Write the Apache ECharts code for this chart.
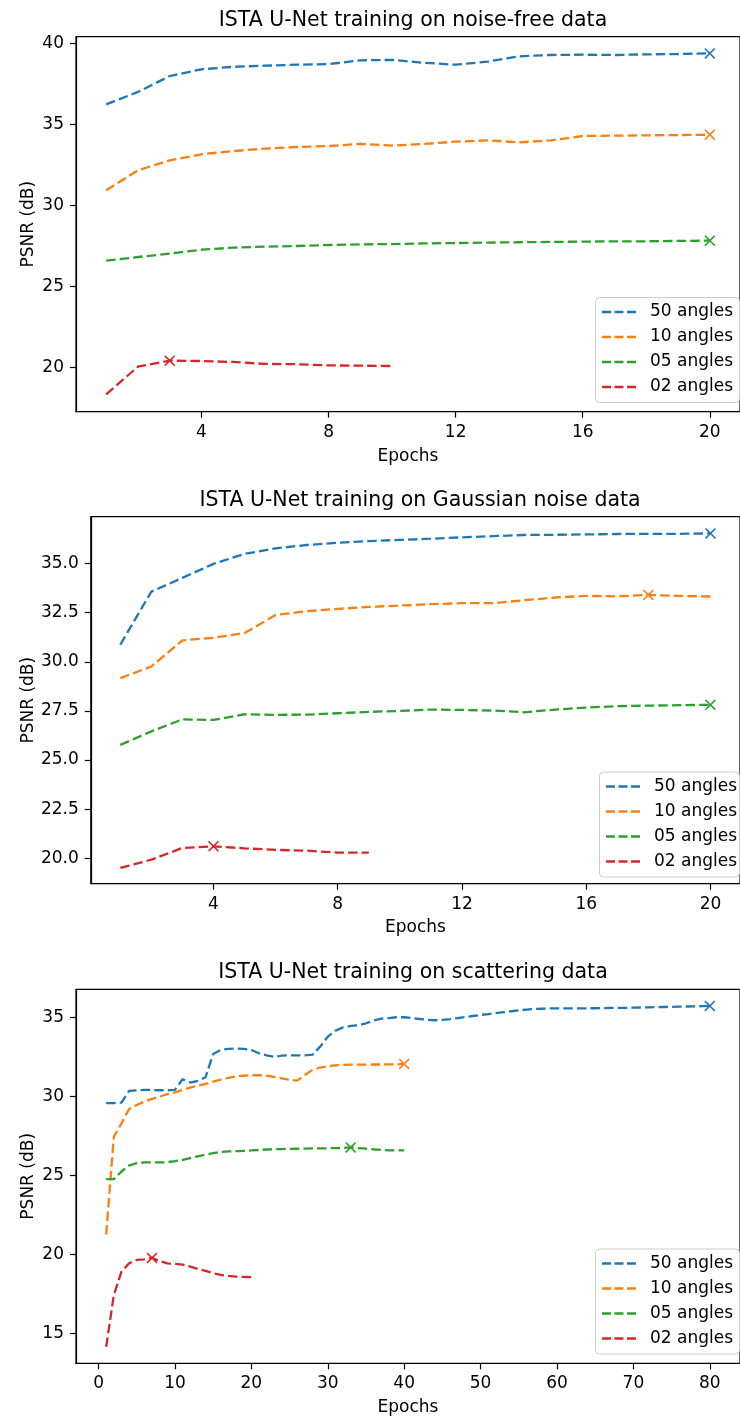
<!DOCTYPE html>
<html><head><meta charset="utf-8">
<script src="https://cdn.jsdelivr.net/npm/echarts@6/dist/echarts.min.js"></script>
<style>html,body{margin:0;padding:0;background:#fff}#c{width:740px;height:1419px}</style>
</head><body><div id="c"></div>
<script>
const seriesNames = ['50 angles', '10 angles', '05 angles', '02 angles'];
const colors = ['#1f77b4', '#ff7f0e', '#2ca02c', '#d62728'];
const titles = ['ISTA U-Net training on noise-free data', 'ISTA U-Net training on Gaussian noise data', 'ISTA U-Net training on scattering data'];
const xTicks1 = [4, 8, 12, 16, 20];
const xTicks2 = [4, 8, 12, 16, 20];
const xTicks3 = [0, 10, 20, 30, 40, 50, 60, 70, 80];
const yTicks1 = [20, 25, 30, 35, 40];
const yTicks2 = [20, 22.5, 25, 27.5, 30, 32.5, 35];
const yTicks3 = [15, 20, 25, 30, 35];

// noise-free data (epochs 1..n)
const nf50 = [36.23, 37.0, 37.98, 38.4, 38.55, 38.62, 38.68, 38.72, 38.95, 38.98, 38.8, 38.68, 38.87, 39.2, 39.28, 39.3, 39.28, 39.32, 39.34, 39.38];
const nf10 = [30.93, 32.16, 32.78, 33.15, 33.35, 33.5, 33.6, 33.66, 33.8, 33.68, 33.79, 33.93, 34.01, 33.89, 34.01, 34.28, 34.3, 34.32, 34.34, 34.36];
const nf05 = [26.58, 26.81, 27.02, 27.26, 27.39, 27.45, 27.49, 27.55, 27.59, 27.61, 27.65, 27.67, 27.7, 27.72, 27.74, 27.76, 27.78, 27.78, 27.8, 27.82];
const nf02 = [18.33, 20.04, 20.41, 20.39, 20.33, 20.21, 20.19, 20.12, 20.1, 20.08];

// Gaussian noise data
const gn50 = [30.87, 33.57, 34.27, 34.98, 35.49, 35.77, 35.94, 36.05, 36.14, 36.2, 36.26, 36.33, 36.39, 36.45, 36.46, 36.48, 36.5, 36.51, 36.51, 36.53];
const gn10 = [29.17, 29.76, 31.09, 31.22, 31.46, 32.38, 32.57, 32.69, 32.79, 32.86, 32.93, 32.98, 32.98, 33.13, 33.27, 33.35, 33.33, 33.4, 33.35, 33.32];
const gn05 = [25.77, 26.46, 27.07, 27.04, 27.33, 27.3, 27.31, 27.38, 27.45, 27.5, 27.57, 27.55, 27.52, 27.43, 27.57, 27.67, 27.74, 27.77, 27.79, 27.81];
const gn02 = [19.51, 19.93, 20.53, 20.61, 20.51, 20.43, 20.39, 20.29, 20.29];

// scattering data
const sc50 = [29.56, 29.57, 29.6, 30.34, 30.38, 30.4, 30.4, 30.38, 30.38, 30.4,
  31.08, 30.87, 30.97, 31.2, 32.68, 32.93, 33.0, 33.02, 33.0, 32.93,
  32.72, 32.59, 32.5, 32.57, 32.59, 32.59, 32.59, 32.63, 33.14, 33.77,
  34.15, 34.36, 34.45, 34.49, 34.62, 34.79, 34.91, 34.95, 35.0, 35.0,
  34.95, 34.89, 34.84, 34.81, 34.83, 34.88, 34.95, 35.02, 35.08, 35.15,
  35.2, 35.26, 35.32, 35.38, 35.44, 35.48, 35.52, 35.54, 35.56, 35.56,
  35.56, 35.56, 35.56, 35.57, 35.57, 35.58, 35.59, 35.6, 35.6, 35.61,
  35.62, 35.63, 35.64, 35.65, 35.66, 35.67, 35.68, 35.69, 35.7, 35.72];
const sc10 = [21.25, 27.44, 28.28, 29.2, 29.45, 29.66, 29.83, 29.98, 30.13, 30.25,
  30.4, 30.55, 30.68, 30.78, 30.93, 31.05, 31.17, 31.25, 31.3, 31.33,
  31.33, 31.3, 31.22, 31.13, 31.05, 30.99, 31.35, 31.67, 31.82, 31.9,
  31.96, 31.98, 32.0, 32.0, 32.0, 32.01, 32.01, 32.02, 32.02, 32.05];
const sc05 = [24.75, 24.75, 25.24, 25.62, 25.77, 25.81, 25.81, 25.81, 25.83, 25.9,
  25.98, 26.09, 26.2, 26.3, 26.4, 26.47, 26.51, 26.53, 26.55, 26.57,
  26.6, 26.63, 26.65, 26.66, 26.67, 26.68, 26.69, 26.7, 26.7, 26.71,
  26.72, 26.73, 26.76, 26.72, 26.68, 26.64, 26.6, 26.58, 26.57, 26.57];
const sc02 = [14.15, 17.42, 18.9, 19.43, 19.64, 19.68, 19.77, 19.57, 19.43, 19.39,
  19.35, 19.22, 19.07, 18.95, 18.8, 18.7, 18.63, 18.59, 18.57, 18.55];

const panels = [
  { data: [nf50, nf10, nf05, nf02], xTicks: xTicks1, yTicks: yTicks1,
    grid: { left: 76, top: 36.7, width: 673, height: 375 },
    xr: [0.05, 20.95], yr: [17.26, 40.41], yFmt: v => String(v),
    legend: { left: 595, top: 297 }, title: { x: 413, y: 21 }, yGap: 39, xGap: 36 },
  { data: [gn50, gn10, gn05, gn02], xTicks: xTicks2, yTicks: yTicks2,
    grid: { left: 90.8, top: 516.7, width: 658.7, height: 367 },
    xr: [0.05, 20.95], yr: [18.71, 37.38], yFmt: v => v.toFixed(1),
    legend: { left: 599, top: 771.5 }, title: { x: 420, y: 501 }, yGap: 54, xGap: 35 },
  { data: [sc50, sc10, sc05, sc02], xTicks: xTicks3, yTicks: yTicks3,
    grid: { left: 76, top: 989.3, width: 674, height: 374 },
    xr: [-2.95, 83.95], yr: [13.1, 36.77], yFmt: v => String(v),
    legend: { left: 595, top: 1248.5 }, title: { x: 413, y: 973 }, yGap: 39, xGap: 36 }
];

const FONT = 'DejaVu Sans';
const xPath = 'path://M0,1L1,0L5,4L9,0L10,1L6,5L10,9L9,10L5,6L1,10L0,9L4,5Z';
const dashIcon = 'path://M0,0H9V2.3H0Z M12.5,0H21.5V2.3H12.5Z M25,0H34V2.3H25Z';
const option = { animation: false, grid: [], xAxis: [], yAxis: [], series: [], legend: [], graphic: [] };

panels.forEach((p, i) => {
  option.grid.push(Object.assign({ show: true, borderColor: '#000', borderWidth: 1.2, backgroundColor: 'transparent' }, p.grid));
  const axisCommon = {
    gridIndex: i, type: 'value', splitLine: { show: false },
    axisLine: { show: true, onZero: false, lineStyle: { color: '#000', width: 1.2 } },
    nameLocation: 'middle', nameTextStyle: { color: '#000', fontSize: 17, fontFamily: FONT }
  };
  option.xAxis.push(Object.assign({}, axisCommon, {
    min: p.xr[0], max: p.xr[1], name: 'Epochs', nameGap: p.xGap,
    axisTick: { show: true, length: 6, customValues: p.xTicks, lineStyle: { color: '#000', width: 1.2 } },
    axisLabel: { customValues: p.xTicks, color: '#000', fontSize: 17, fontFamily: FONT, margin: 12 }
  }));
  option.yAxis.push(Object.assign({}, axisCommon, {
    min: p.yr[0], max: p.yr[1], name: 'PSNR (dB)', nameGap: p.yGap, nameRotate: 90, nameMoveOverlap: false,
    axisTick: { show: true, length: 6, customValues: p.yTicks, lineStyle: { color: '#000', width: 1.2 } },
    axisLabel: { customValues: p.yTicks, color: '#000', fontSize: 17, fontFamily: FONT, margin: 12, formatter: p.yFmt }
  }));
  p.data.forEach((arr, k) => {
    const pts = arr.map((v, j) => [j + 1, v]);
    option.series.push({
      type: 'line', name: seriesNames[k], xAxisIndex: i, yAxisIndex: i, data: pts,
      symbol: 'none', showSymbol: false, smooth: false, z: 2,
      lineStyle: { color: colors[k], width: 2.3, type: [9.5, 4.1] },
      itemStyle: { color: colors[k] }
    });
    let mi = 0;
    arr.forEach((v, j) => { if (v > arr[mi]) mi = j; });
    option.series.push({
      type: 'scatter', name: 'max-' + i + '-' + k, xAxisIndex: i, yAxisIndex: i,
      data: [[mi + 1, arr[mi]]], symbol: xPath, symbolSize: 11, z: 3,
      itemStyle: { color: colors[k], opacity: 1 }, silent: true
    });
  });
  // legend frame
  option.graphic.push({
    type: 'rect', z: 5, silent: true,
    shape: { x: p.legend.left + 0.5, y: p.legend.top + 0.5, width: 739 - p.legend.left, height: 105, r: 4 },
    style: { fill: 'rgba(255,255,255,0.8)', stroke: '#cccccc', lineWidth: 1 }
  });
  option.legend.push({
    data: seriesNames.map(n => ({ name: n, icon: dashIcon })), orient: 'vertical',
    left: p.legend.left, top: p.legend.top, z: 10,
    itemWidth: 34, itemHeight: 2.3, itemGap: 8, padding: [6.5, 7, 6.5, 7],
    selectedMode: false,
    textStyle: { color: '#000', fontSize: 17, fontFamily: FONT, lineHeight: 17, padding: [0, 0, 0, 9] }
  });
  option.graphic.push({
    type: 'text', x: p.title.x, y: p.title.y,
    style: { text: titles[i], fill: '#000', font: '20.5px "DejaVu Sans"', textAlign: 'center', textVerticalAlign: 'middle' }
  });
});

const chart = echarts.init(document.getElementById('c'), null, { renderer: 'canvas' });
chart.setOption(option);
</script>
</body></html>
